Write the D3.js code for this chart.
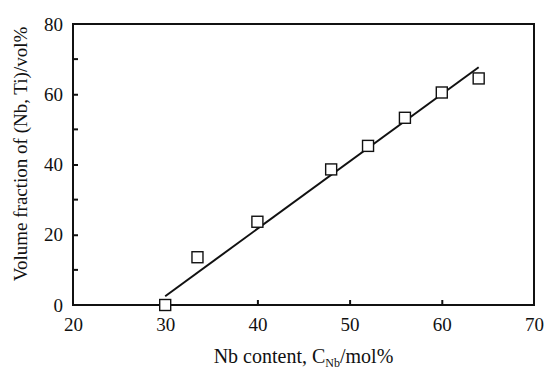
<!DOCTYPE html>
<html>
<head>
<meta charset="utf-8">
<script src="https://cdn.jsdelivr.net/npm/d3@7"></script>
<style>
  body { margin: 0; background: #fff; }
</style>
</head>
<body>
<div id="chart"></div>
<script>
// Nb content (mol%) vs volume fraction of (Nb,Ti) (vol%)
const nbContent = [30, 33.5, 40, 48, 52, 56, 60, 64];
const volFraction = [0, 13.6, 23.7, 38.6, 45.3, 53.3, 60.5, 64.5];

// fitted line end points
const fitX = [30, 64];
const fitY = [2.5, 67.7];

const xTicks = [20, 30, 40, 50, 60, 70];
const yTicks = [0, 20, 40, 60, 80];
const yMinorTicks = [10, 30, 50, 70];

const serif = "Times New Roman";

const width = 546, height = 370;
const margin = {top: 24, right: 12, bottom: 65, left: 73};
const innerWidth = width - margin.left - margin.right;
const innerHeight = height - margin.top - margin.bottom;

const svg = d3.select("#chart").append("svg")
    .attr("width", width)
    .attr("height", height);

const g = svg.append("g")
    .attr("transform", `translate(${margin.left},${margin.top})`);

const x = d3.scaleLinear().domain([20, 70]).range([0, innerWidth]);
const y = d3.scaleLinear().domain([0, 80]).range([innerHeight, 0]);

// frame
g.append("rect")
    .attr("x", 0).attr("y", 0)
    .attr("width", innerWidth).attr("height", innerHeight)
    .attr("fill", "none")
    .attr("stroke", "#111")
    .attr("stroke-width", 2);

// x axis (inward ticks)
const xAxis = g.append("g")
    .attr("transform", `translate(0,${innerHeight})`)
    .call(d3.axisBottom(x).tickValues(xTicks).tickSize(-5).tickPadding(13).tickFormat(d3.format("d")));
xAxis.attr("font-family", serif).attr("font-size", 19);
xAxis.select(".domain").remove();
xAxis.selectAll(".tick line")
    .attr("stroke", "#111").attr("stroke-width", 2)
    .filter(d => d === 20 || d === 70).remove();
xAxis.selectAll(".tick text").attr("fill", "#111");

// y axis (inward ticks)
const yAxis = g.append("g")
    .call(d3.axisLeft(y).tickValues(yTicks).tickSize(-5).tickPadding(10).tickFormat(d3.format("d")));
yAxis.attr("font-family", serif).attr("font-size", 19);
yAxis.select(".domain").remove();
yAxis.selectAll(".tick line")
    .attr("stroke", "#111").attr("stroke-width", 2)
    .filter(d => d === 0 || d === 80).remove();
yAxis.selectAll(".tick text").attr("fill", "#111");

g.selectAll(".yminor")
    .data(yMinorTicks)
    .enter().append("line")
    .attr("class", "yminor")
    .attr("x1", 0).attr("x2", 5)
    .attr("y1", d => y(d)).attr("y2", d => y(d))
    .attr("stroke", "#111").attr("stroke-width", 2);

// fitted line
g.append("line")
    .attr("x1", x(fitX[0])).attr("y1", y(fitY[0]))
    .attr("x2", x(fitX[1])).attr("y2", y(fitY[1]))
    .attr("stroke", "#111")
    .attr("stroke-width", 2);

// square markers
const s = 11;
g.selectAll(".pt")
    .data(nbContent.map((v, i) => ({x: v, y: volFraction[i]})))
    .enter().append("rect")
    .attr("class", "pt")
    .attr("x", d => x(d.x) - s / 2)
    .attr("y", d => y(d.y) - s / 2)
    .attr("width", s).attr("height", s)
    .attr("fill", "#fff")
    .attr("stroke", "#111")
    .attr("stroke-width", 1.4);

// x title
const xt = svg.append("text")
    .attr("x", margin.left + innerWidth / 2)
    .attr("y", 363)
    .attr("text-anchor", "middle")
    .attr("font-family", serif)
    .attr("font-size", 20)
    .attr("fill", "#111");
xt.append("tspan").text("Nb content, C");
xt.append("tspan").attr("font-size", 12).attr("dy", 4).text("Nb");
xt.append("tspan").attr("dy", -4).text("/mol%");

// y title
svg.append("text")
    .attr("transform", "translate(27,154) rotate(-90)")
    .attr("text-anchor", "middle")
    .attr("font-family", serif)
    .attr("font-size", 19)
    .attr("fill", "#111")
    .text("Volume fraction of (Nb, Ti)/vol%");
</script>
</body>
</html>
